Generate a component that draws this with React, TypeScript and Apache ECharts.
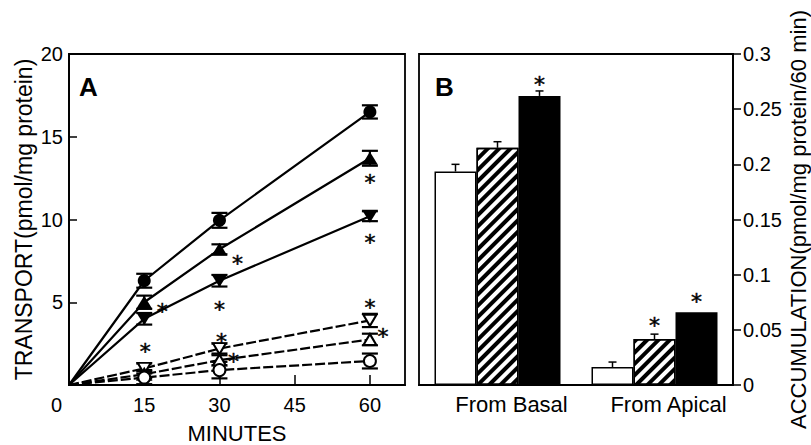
import React, { useEffect, useRef } from "react";
import * as echarts from "echarts";

// ---------- Panel A data ----------
const minutes = [0, 15, 30, 60];
const filledCircle = [0, 6.3, 9.95, 16.5];
const filledCircleErr = [0, 0.42, 0.45, 0.4];
const filledTriUp = [0, 5.0, 8.2, 13.7];
const filledTriUpErr = [0, 0.4, 0.3, 0.45];
const filledTriDown = [0, 4.0, 6.3, 10.2];
const filledTriDownErr = [0, 0.35, 0.35, 0.3];
const openTriDown = [0, 1.0, 2.2, 3.9];
const openTriDownErr = [0, 0.3, 0.3, 0.4];
const openTriUp = [0, 0.65, 1.5, 2.75];
const openTriUpErr = [0, 0.25, 0.3, 0.35];
const openCircle = [0, 0.45, 0.9, 1.45];
const openCircleErr = [0, 0.4, 0.5, 0.45];
const starX = [18.6, 15.2, 33.6, 30, 30.4, 32.8, 60, 60, 60, 62.6];
const starY = [4.71, 2.3, 7.61, 4.83, 2.9, 1.69, 12.5, 8.88, 4.95, 3.2];
const xTicksA = [15, 30, 45, 60];

// ---------- Panel B data ----------
const categoriesB = ["From Basal", "From Apical"];
const whiteBars = [0.1935, 0.0163];
const whiteErr = [0.0065, 0.0045];
const hatchedBars = [0.215, 0.0416];
const hatchedErr = [0.0055, 0.0045];
const blackBars = [0.262, 0.066];
const blackErr = [0.0045, 0];
const whiteSig = [false, false];
const hatchedSig = [false, true];
const blackSig = [true, true];

const FONT = "'Liberation Sans', Arial, Helvetica, sans-serif";

export default function App() {
  const ref = useRef<HTMLDivElement>(null);

  useEffect(() => {
    document.body.style.margin = "0";
    if (!ref.current) return;
    const chart = echarts.init(ref.current, null, { renderer: "svg" });

    const lineDefs = [
      { data: filledCircle, err: filledCircleErr, symbol: "circle", size: 13, open: false, rot: 0 },
      { data: filledTriUp, err: filledTriUpErr, symbol: "triangle", size: [16, 13], open: false, rot: 0 },
      { data: filledTriDown, err: filledTriDownErr, symbol: "triangle", size: [16, 13], open: false, rot: 180 },
      { data: openTriDown, err: openTriDownErr, symbol: "triangle", size: [13, 11], open: true, rot: 180 },
      { data: openTriUp, err: openTriUpErr, symbol: "triangle", size: [13, 11], open: true, rot: 0 },
      { data: openCircle, err: openCircleErr, symbol: "circle", size: 12, open: true, rot: 0 },
    ];

    const lineSeries: any[] = lineDefs.map((d) => ({
      type: "line",
      xAxisIndex: 0,
      yAxisIndex: 0,
      z: 3,
      symbol: d.symbol,
      symbolSize: d.size,
      symbolRotate: d.rot,
      showAllSymbol: true,
      lineStyle: { color: "#000", width: 2.2, type: d.open ? [10, 3] : "solid" },
      itemStyle: { color: d.open ? "#fff" : "#000", borderColor: "#000", borderWidth: d.open ? 2 : 0 },
      data: minutes.map((m, i) =>
        i === 0 ? { value: [m, d.data[i]], symbol: "none" } : [m, d.data[i]]
      ),
    }));

    const errData: number[][] = [];
    lineDefs.forEach((d) => {
      minutes.forEach((m, i) => {
        if (i > 0) errData.push([m, d.data[i], d.err[i]]);
      });
    });

    const errSeriesA = {
      type: "custom",
      xAxisIndex: 0,
      yAxisIndex: 0,
      z: 2,
      data: errData,
      renderItem: (params: any, api: any) => {
        const x = api.value(0);
        const y = api.value(1);
        const e = api.value(2);
        const top = api.coord([x, y + e]);
        const bot = api.coord([x, y - e]);
        const hw = 8;
        const style = { stroke: "#000", lineWidth: 2.2 };
        return {
          type: "group",
          children: [
            { type: "line", shape: { x1: top[0], y1: top[1], x2: bot[0], y2: bot[1] }, style },
            { type: "line", shape: { x1: top[0] - hw, y1: top[1], x2: top[0] + hw, y2: top[1] }, style },
            { type: "line", shape: { x1: bot[0] - hw, y1: bot[1], x2: bot[0] + hw, y2: bot[1] }, style },
          ],
        };
      },
    };

    const starLabel = {
      show: true,
      formatter: "*",
      fontFamily: "'DejaVu Sans'",
      fontSize: 22,
      color: "#000",
      textBorderColor: "#000",
      textBorderWidth: 0.5,
    };

    const starSeriesA = {
      type: "scatter",
      xAxisIndex: 0,
      yAxisIndex: 0,
      z: 4,
      symbol: "circle",
      symbolSize: 1,
      itemStyle: { color: "#000", opacity: 1 },
      label: { ...starLabel, position: "top", distance: 0, offset: [0, 16] },
      data: starX.map((x, i) => [x, starY[i]]),
    };

    const BW = 42;
    const barLabel = (sig: boolean[], dist: number[]) => (v: number, i: number) =>
      sig[i]
        ? { value: v, label: { ...starLabel, position: "top", distance: dist[i] } }
        : v;

    const barSeries: any[] = [
      {
        type: "bar",
        xAxisIndex: 1,
        yAxisIndex: 1,
        barWidth: BW,
        barGap: "0%",
        itemStyle: { color: "#fff", borderColor: "#000", borderWidth: 1.5 },
        data: whiteBars.map(barLabel(whiteSig, [0, 0])),
      },
      {
        type: "bar",
        xAxisIndex: 1,
        yAxisIndex: 1,
        barWidth: BW,
        barGap: "0%",
        itemStyle: {
          color: "#fff",
          borderColor: "#000",
          borderWidth: 1.5,
          decal: {
            symbol: "rect",
            symbolSize: 1,
            dashArrayX: [1, 0],
            dashArrayY: [4, 3.5],
            rotation: -Math.PI / 4,
            color: "#000",
            backgroundColor: "#fff",
          },
        },
        data: hatchedBars.map(barLabel(hatchedSig, [0, 3])),
      },
      {
        type: "bar",
        xAxisIndex: 1,
        yAxisIndex: 1,
        barWidth: BW,
        barGap: "0%",
        itemStyle: { color: "#000", borderColor: "#000", borderWidth: 1.5 },
        data: blackBars.map(barLabel(blackSig, [0, 0])),
      },
    ];

    const errDataB: number[][] = [];
    [
      [whiteBars, whiteErr],
      [hatchedBars, hatchedErr],
      [blackBars, blackErr],
    ].forEach(([vals, errs], k) => {
      vals.forEach((v, i) => {
        if (errs[i] > 0) errDataB.push([i, v, errs[i], k]);
      });
    });

    const errSeriesB = {
      type: "custom",
      xAxisIndex: 1,
      yAxisIndex: 1,
      z: 3,
      data: errDataB,
      renderItem: (params: any, api: any) => {
        const ci = api.value(0);
        const v = api.value(1);
        const e = api.value(2);
        const k = api.value(3);
        const base = api.coord([ci, v]);
        const top = api.coord([ci, v + e]);
        const x = base[0] + (k - 1) * BW;
        const style = { stroke: "#000", lineWidth: 1.5 };
        return {
          type: "group",
          children: [
            { type: "line", shape: { x1: x, y1: base[1], x2: x, y2: top[1] }, style },
            { type: "line", shape: { x1: x - 4, y1: top[1], x2: x + 4, y2: top[1] }, style },
          ],
        };
      },
    };

    const axisLine = { show: true, lineStyle: { color: "#000", width: 1.8 } };

    chart.setOption({
      animation: false,
      textStyle: { fontFamily: FONT, color: "#000" },
      grid: [
        { left: 69, top: 54, width: 336, height: 331, outerBoundsMode: "none", containLabel: false, show: true, borderColor: "#000", borderWidth: 1.8, backgroundColor: "transparent" },
        { left: 419, top: 54, width: 314, height: 331, outerBoundsMode: "none", containLabel: false, show: true, borderColor: "#000", borderWidth: 1.8, backgroundColor: "transparent" },
      ],
      xAxis: [
        {
          gridIndex: 0,
          type: "value",
          min: 0,
          max: 67,
          axisLine,
          splitLine: { show: false },
          axisTick: { show: true, inside: true, length: 10, customValues: xTicksA, lineStyle: { color: "#000", width: 1.5 } },
          axisLabel: { customValues: xTicksA, fontSize: 20, color: "#000", margin: 10, fontFamily: FONT },
          name: "MINUTES",
          nameLocation: "middle",
          nameGap: 37,
          nameTextStyle: { fontSize: 22, color: "#000", fontFamily: FONT },
        },
        {
          gridIndex: 1,
          type: "category",
          data: categoriesB,
          axisLine,
          axisTick: { show: false },
          splitLine: { show: false },
          axisLabel: { fontSize: 22, color: "#000", margin: 8, padding: [0, 0, 0, 28], fontFamily: FONT },
        },
      ],
      yAxis: [
        {
          gridIndex: 0,
          type: "value",
          min: 0,
          max: 20,
          interval: 5,
          axisLine,
          splitLine: { show: false },
          axisTick: { show: true, inside: true, length: 8, lineStyle: { color: "#000", width: 1.5 } },
          axisLabel: { showMinLabel: false, fontSize: 20, color: "#000", margin: 6, fontFamily: FONT },
          name: "TRANSPORT(pmol/mg protein)",
          nameLocation: "middle",
          nameRotate: 90,
          nameGap: 34,
          nameTextStyle: { fontSize: 23, color: "#000", fontFamily: FONT },
        },
        {
          gridIndex: 1,
          type: "value",
          position: "right",
          min: 0,
          max: 0.3,
          interval: 0.05,
          axisLine,
          splitLine: { show: false },
          axisTick: { show: true, inside: false, length: 8, lineStyle: { color: "#000", width: 1.5 } },
          axisLabel: { fontSize: 20, color: "#000", margin: 10, fontFamily: FONT },
          name: "ACCUMULATION(pmol/mg protein/60 min)",
          nameLocation: "middle",
          nameRotate: 90,
          nameGap: 54,
          nameTextStyle: { fontSize: 22, color: "#000", fontFamily: FONT },
        },
      ],
      graphic: [
        { type: "text", left: 51, top: 395, style: { text: "0", fontSize: 20, fontFamily: FONT, fill: "#000" } },
        { type: "text", left: 79, top: 74, style: { text: "A", fontSize: 26, fontWeight: "bold", fontFamily: FONT, fill: "#000" } },
        { type: "text", left: 435, top: 74, style: { text: "B", fontSize: 26, fontWeight: "bold", fontFamily: FONT, fill: "#000" } },
      ],
      series: [errSeriesA, ...lineSeries, starSeriesA, ...barSeries, errSeriesB],
    });

    return () => chart.dispose();
  }, []);

  return <div ref={ref} style={{ width: 811, height: 445 }} />;
}
